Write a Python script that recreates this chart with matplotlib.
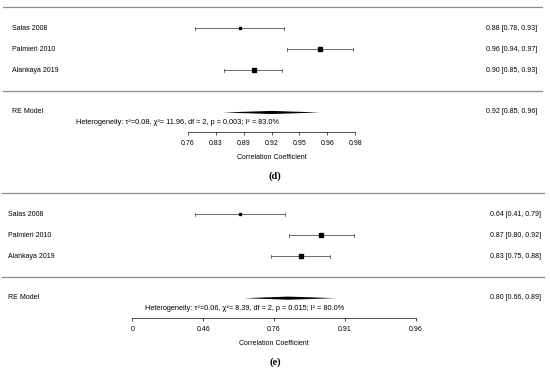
import numpy as np
import matplotlib.pyplot as plt
from matplotlib.transforms import blended_transform_factory

studies = ['Salas 2008', 'Palmieri 2010', 'Alankaya 2019']

# panel (d): estimates and CIs, labels as printed
d_est = [0.879, 0.960, 0.900]
d_lo = [0.783, 0.937, 0.852]
d_hi = [0.934, 0.975, 0.932]
d_labels = ['0.88 [0.78, 0.93]', '0.96 [0.94, 0.97]', '0.90 [0.85, 0.93]']
d_re = (0.922, 0.849, 0.960)
d_re_label = '0.92 [0.85, 0.96]'
d_het = 'Heterogeneity: τ²=0.08, χ²= 11.96, df = 2, p = 0.003; I² = 83.0%'
d_ticks = ['0.76', '0.83', '0.89', '0.92', '0.95', '0.96', '0.98']
d_tick_z = [1.0, 1.2, 1.4, 1.6, 1.8, 2.0, 2.2]

# panel (e)
e_est = [0.641, 0.870, 0.831]
e_lo = [0.418, 0.802, 0.752]
e_hi = [0.792, 0.916, 0.885]
e_labels = ['0.64 [0.41, 0.79]', '0.87 [0.80, 0.92]', '0.83 [0.75, 0.88]']
e_re = (0.800, 0.658, 0.893)
e_re_label = '0.80 [0.66, 0.89]'
e_het = 'Heterogeneity: τ²=0.06, χ²= 8.39, df = 2, p = 0.015; I² = 80.0%'
e_ticks = ['0', '0.46', '0.76', '0.91', '0.96']
e_tick_z = [0.0, 0.5, 1.0, 1.5, 2.0]

plt.rcParams['font.family'] = ['Liberation Sans', 'DejaVu Sans']
fs = 5

W, H = 550, 375
fig = plt.figure(figsize=(5.5, 3.75), dpi=100)


def panel(left, right, axis_y, est, lo, hi, labels, re, re_label, het, het_x,
          ticks, tick_z, name_x, lab_x, line_x, tag, tag_y):
    ylo, yhi = 0.07, 6.05
    h = (yhi - ylo) * 21
    ax = fig.add_axes([left / W, 1 - axis_y / H, (right - left) / W, h / H])
    # x axis on Fisher z scale, labelled in correlations
    ax.set_xscale('function', functions=(np.arctanh, np.tanh))
    ax.set_xlim(np.tanh(tick_z[0]), np.tanh(tick_z[-1]))
    ax.set_ylim(ylo, yhi)
    for s in ['top', 'left', 'right']:
        ax.spines[s].set_visible(False)
    ax.spines['bottom'].set_linewidth(0.6)
    ax.spines['bottom'].set_color('#333333')
    ax.set_yticks([])
    ax.set_xticks(np.tanh(tick_z))
    ax.set_xticklabels(ticks, fontsize=fs)
    ax.xaxis.set_minor_locator(plt.NullLocator())
    ax.tick_params(axis='x', length=2.3, width=0.6, color='#333333', pad=3.5)
    ax.set_xlabel('Correlation Coefficient', fontsize=fs, labelpad=5)

    tr = blended_transform_factory(fig.transFigure, ax.transData)
    rows = [5, 4, 3]
    sizes = [1.5, 2.9, 3.4]
    for i in range(3):
        ax.plot([lo[i], hi[i]], [rows[i], rows[i]], color='#555555', lw=0.6, clip_on=False)
        for v in (lo[i], hi[i]):
            ax.plot([v, v], [rows[i] - 0.07, rows[i] + 0.07], color='#555555', lw=0.6, clip_on=False)
        ax.plot(est[i], rows[i], 's', color='black', ms=sizes[i], clip_on=False)
        ax.text(name_x / W, rows[i], studies[i], transform=tr, fontsize=fs, va='center')
        ax.text(lab_x / W, rows[i], labels[i], transform=tr, fontsize=fs,
                va='center', ha='right')

    m, l, u = re
    ax.fill([l, m, u, m], [1, 1.075, 1, 0.925], color='black', lw=0, clip_on=False)
    ax.text(name_x / W, 1.05, 'RE Model', transform=tr, fontsize=fs, va='center')
    ax.text(lab_x / W, 1.05, re_label, transform=tr, fontsize=fs, va='center', ha='right')
    ax.text(het_x / W, 0.52, het, transform=tr, fontsize=5.35, va='center', ha='center')

    for y in (6, 2):
        ax.plot([line_x[0] / W, line_x[1] / W], [y, y], transform=tr,
                color='#8c8c8c', lw=0.9, clip_on=False)
    fig.text(0.5, 1 - tag_y / H, tag, fontsize=7.5, fontweight='bold',
             family='Liberation Serif', ha='center', va='center')
    return ax


panel(187.7, 355.3, 132.0, d_est, d_lo, d_hi, d_labels, d_re, d_re_label, d_het, 177.5,
      d_ticks, d_tick_z, 12.5, 537, (3, 542), '(d)', 176)
panel(132.3, 415.7, 317.7, e_est, e_lo, e_hi, e_labels, e_re, e_re_label, e_het, 245,
      e_ticks, e_tick_z, 8.5, 541, (2, 544), '(e)', 361.7)

plt.savefig('out.png', dpi=100)
